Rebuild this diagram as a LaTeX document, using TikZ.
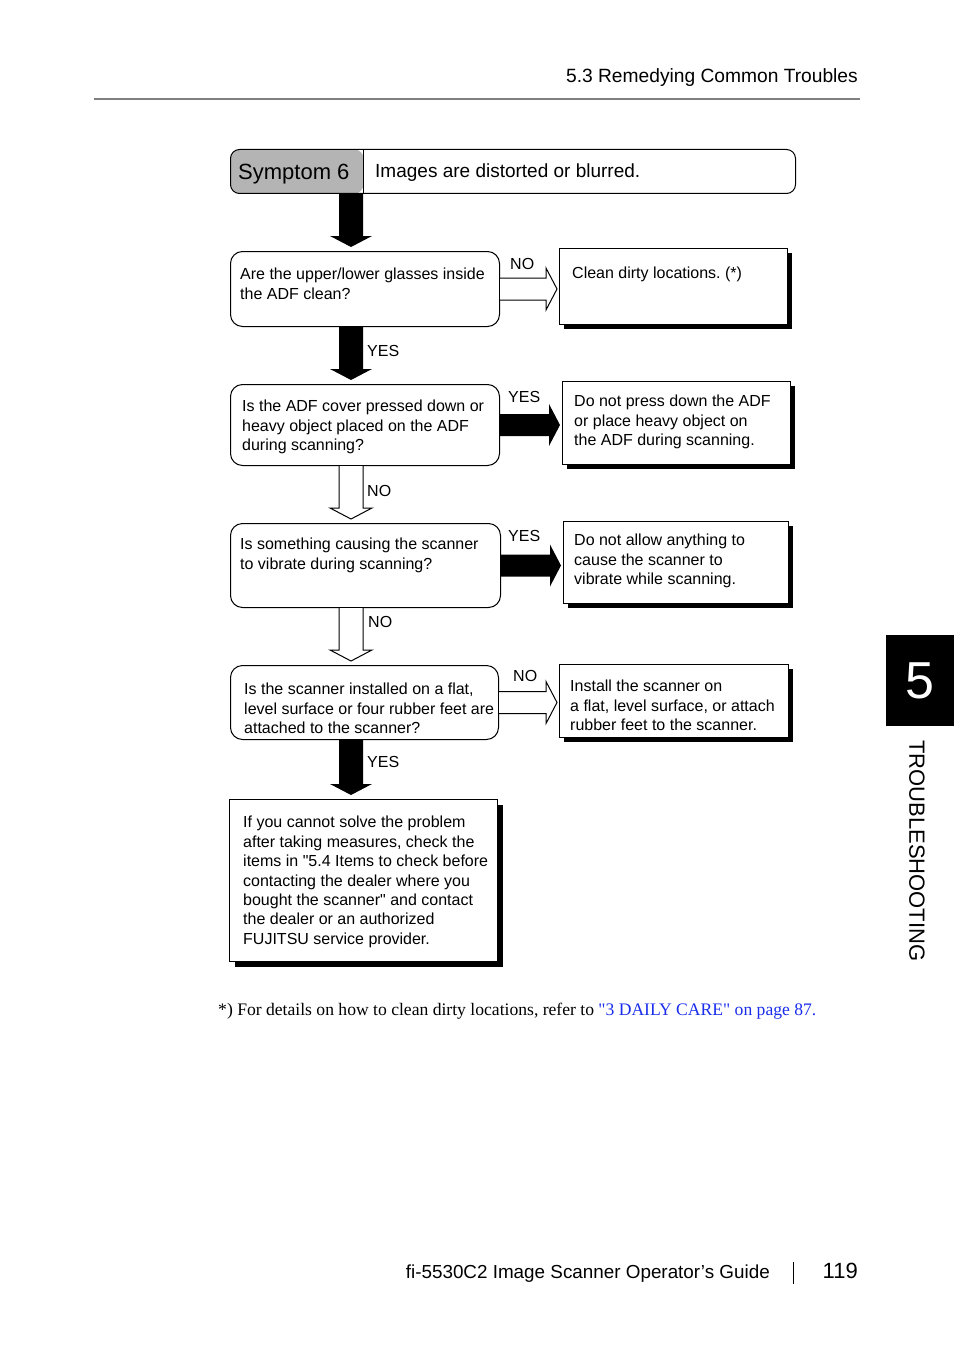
\documentclass[tikz,border=0pt]{standalone}
\usepackage{fontspec}
\setmainfont{Liberation Sans}[Ligatures=TeXOff]
\newfontfamily\notefont{Liberation Serif}
\usetikzlibrary{positioning,calc,shadows}
\frenchspacing

\definecolor{symgray}{RGB}{180,180,180}
\definecolor{rulegray}{RGB}{128,128,128}
\definecolor{linkblue}{RGB}{25,45,235}

% fat arrow down the spine: style, from node, to node
\newcommand{\downfat}[3]{%
  \path[#1] ($(#2.south -| spine)+(-12,0)$) -- ($(#3.north -| spine)+(-12,-15)$)
    -- ($(#3.north -| spine)+(-21,-15)$) -- ($(#3.north -| spine)+(0,-4)$)
    -- ($(#3.north -| spine)+(21,-15)$) -- ($(#3.north -| spine)+(12,-15)$)
    -- ($(#2.south -| spine)+(12,0)$);}
% fat arrow to the right: style, from node, to node
\newcommand{\rightfat}[3]{%
  \path[#1] ($(#2.east)+(0,-11)$) -- ($(#3.west |- #2.east)+(-13,-11)$)
    -- ($(#3.west |- #2.east)+(-13,-21)$) -- ($(#3.west |- #2.east)+(-2,0)$)
    -- ($(#3.west |- #2.east)+(-13,21)$) -- ($(#3.west |- #2.east)+(-13,11)$)
    -- ($(#2.east)+(0,11)$);}

\begin{document}
\begin{tikzpicture}[
    x=1pt, y=-1pt,
    headbox/.style={draw, rounded corners=9pt, line width=1pt, anchor=north west, inner sep=0pt},
    qbox/.style={draw, rounded corners=12pt, line width=1pt, anchor=north west, inner sep=0pt},
    abox/.style={draw, fill=white, line width=1pt, anchor=north west, inner sep=0pt,
        drop shadow={shadow xshift=#1, shadow yshift=-#1, fill=black, opacity=1}},
    abox/.default=4pt,
    boxtext/.style={inner sep=0pt, align=left, font=\fontsize{16}{19.4}\selectfont},
    ynlabel/.style={inner sep=0pt, anchor=west, font=\fontsize{16}{16}\selectfont},
    solidarrow/.style={fill=black},
    openarrow/.style={draw, fill=white, line width=1pt, line join=miter}
]
\useasboundingbox (0,0) rectangle (954,1351);

% running head
\node[anchor=base east, inner sep=0pt, font=\fontsize{19.2}{19.2}\selectfont] (runhead) at (858,83) {5.3 Remedying Common Troubles};
\draw[rulegray, line width=2.8pt] (94,99) -- (860,99);

% symptom
\node[headbox, minimum width=565pt, minimum height=44pt,
    path picture={\fill[symgray] (path picture bounding box.north west) rectangle ([xshift=133pt]path picture bounding box.south west);}] (symptom) at (230,149) {};
\draw[line width=1pt] ([xshift=133pt]symptom.north west) -- ([xshift=133pt]symptom.south west);
\node[anchor=base west, inner sep=0pt, font=\fontsize{22}{22}\selectfont] (symlabel) at (238,179) {Symptom 6};
\node[anchor=base west, inner sep=0pt, font=\fontsize{19}{19}\selectfont] (symtext) at (375,178) {Images are distorted or blurred.};

\coordinate (spine) at (351,0);

% questions
\node[qbox, minimum width=269pt, minimum height=75pt] (q1) at (230,251) {};
\node[boxtext, below right=17pt and 10pt of q1.north west] (q1text) {Are the upper/lower glasses inside\\the ADF clean?};
\node[qbox, minimum width=269pt, minimum height=81pt] (q2) at (230,384) {};
\node[boxtext, below right=16pt and 12pt of q2.north west] (q2text) {Is the ADF cover pressed down or\\heavy object placed on the ADF\\during scanning?};
\node[qbox, minimum width=270pt, minimum height=84pt] (q3) at (230,523) {};
\node[boxtext, below right=15pt and 10pt of q3.north west] (q3text) {Is something causing the scanner\\to vibrate during scanning?};
\node[qbox, minimum width=268pt, minimum height=74pt] (q4) at (230,665) {};
\node[boxtext, below right=18pt and 14pt of q4.north west] (q4text) {Is the scanner installed on a flat,\\level surface or four rubber feet are\\attached to the scanner?};

% answers
\node[abox, minimum width=228pt, minimum height=76pt] (a1) at (559,248) {};
\node[boxtext, below right=19pt and 13pt of a1.north west] (a1text) {Clean dirty locations. (*)};
\node[abox, minimum width=228pt, minimum height=83pt] (a2) at (562,381) {};
\node[boxtext, below right=14pt and 12pt of a2.north west] (a2text) {Do not press down the ADF\\or place heavy object on\\the ADF during scanning.};
\node[abox, minimum width=225pt, minimum height=82pt] (a3) at (563,521) {};
\node[boxtext, below right=13pt and 11pt of a3.north west] (a3text) {Do not allow anything to\\cause the scanner to\\vibrate while scanning.};
\node[abox, minimum width=229pt, minimum height=73pt] (a4) at (559,664) {};
\node[boxtext, below right=16pt and 11pt of a4.north west] (a4text) {Install the scanner on\\a flat, level surface, or attach\\rubber feet to the scanner.};
\node[abox=5pt, minimum width=268pt, minimum height=162pt] (last) at (229,799) {};
\node[boxtext, below right=17pt and 14pt of last.north west] (lasttext) {If you cannot solve the problem\\after taking measures, check the\\items in "5.4 Items to check before\\contacting the dealer where you\\bought the scanner" and contact\\the dealer or an authorized\\FUJITSU service provider.};

% arrows
\downfat{solidarrow}{symptom}{q1}
\downfat{solidarrow}{q1}{q2}
\downfat{openarrow}{q2}{q3}
\downfat{openarrow}{q3}{q4}
\downfat{solidarrow}{q4}{last}
\rightfat{openarrow}{q1}{a1}
\rightfat{solidarrow}{q2}{a2}
\rightfat{solidarrow}{q3}{a3}
\rightfat{openarrow}{q4}{a4}

\node[ynlabel] (no1) at (510,264) {NO};
\node[ynlabel] (yes1) at (367,351) {YES};
\node[ynlabel] (yes2) at (508,397) {YES};
\node[ynlabel] (no2) at (367,491) {NO};
\node[ynlabel] (yes3) at (508,536) {YES};
\node[ynlabel] (no3) at (368,622) {NO};
\node[ynlabel] (no4) at (513,676) {NO};
\node[ynlabel] (yes4) at (367,762) {YES};

% footnote
\node[anchor=base west, inner sep=0pt, font=\notefont\fontsize{17.6}{17.6}\selectfont] (note) at (218,1015)
    {*) For details on how to clean dirty locations, refer to {\color{linkblue}"3 DAILY CARE" on page 87.}};

% chapter tab
\node[fill=black, text=white, anchor=north west, minimum width=68pt, minimum height=91pt, inner sep=0pt,
    font=\fontsize{52}{52}\selectfont] (tab) at (886,635) {5};
\node[rotate=-90, anchor=west, inner sep=0pt, font=\fontsize{22}{22}\selectfont] (chapter) at (917,740) {TROUBLESHOOTING};

% footer
\node[anchor=base east, inner sep=0pt, font=\fontsize{18.85}{18.85}\selectfont] (guide) at (770,1278) {fi-5530C2 Image Scanner Operator’s Guide};
\node[anchor=base east, inner sep=0pt, font=\fontsize{22}{22}\selectfont] (page) at (858,1278) {119};
\draw[line width=1pt] (793,1262) -- (793,1284);
\end{tikzpicture}
\end{document}
